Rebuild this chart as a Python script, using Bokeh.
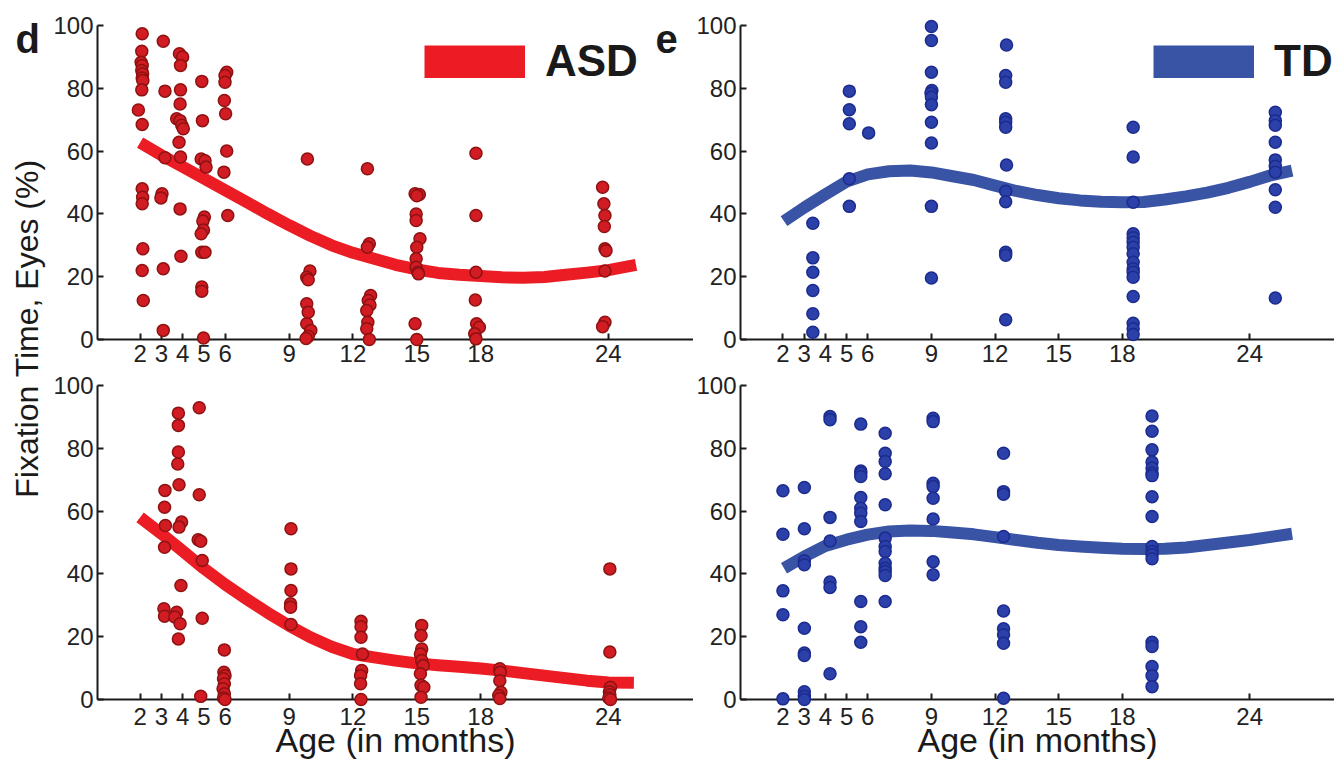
import math
from bokeh.plotting import figure
from bokeh.models import Range1d, FixedTicker, Label, Legend, LegendItem
from bokeh.layouts import row, column
from bokeh.embed import file_html
from bokeh.resources import INLINE

# ---------------- data ----------------
x_ticks = [2, 3, 4, 5, 6, 9, 12, 15, 18, 24]
y_ticks = [0, 20, 40, 60, 80, 100]

# d (top): ASD, first measure
asd_top_age = [2.1, 2.08, 2.05, 2.1, 2.08, 2.12, 2.1, 2.13, 2.08, 1.92, 2.1, 2.1, 2.12, 2.1, 2.13, 2.1, 2.15,
               3.09, 3.17, 3.17, 3.03, 2.98, 3.09, 3.09,
               3.85, 4.0, 3.9, 3.9, 3.88, 3.72, 3.88, 3.96, 4.03, 3.83, 3.9, 3.88, 3.92,
               4.9, 4.93, 4.87, 5.05, 5.1, 5.02, 4.95, 4.98, 4.87, 4.9, 5.05, 4.9, 4.9, 4.98,
               6.07, 5.99, 5.99, 5.96, 6.02, 6.07, 5.94, 6.12,
               9.86, 9.98, 9.83, 9.9, 9.83, 9.9, 9.83, 10.02, 9.9, 9.8,
               12.68, 12.77, 12.68, 12.83, 12.72, 12.8, 12.65, 12.7, 12.65, 12.77,
               14.92, 15.12, 15.0, 14.97, 14.97, 15.15, 15.0, 14.97, 14.97, 15.05, 15.08, 14.92, 15.0,
               17.78, 17.78, 17.78, 17.75, 17.81, 17.94, 17.72, 17.78,
               23.73, 23.79, 23.84, 23.81, 23.84, 23.89, 23.84, 23.84, 23.73]
asd_top_fix = [97.4, 91.8, 88.3, 87.3, 85.7, 84.6, 83.3, 82.5, 79.5, 73.1, 68.5, 48, 45.3, 43.2, 28.9, 22, 12.4,
               95, 79.1, 57.9, 46.4, 45.1, 22.5, 2.9,
               91, 90, 87.3, 79.5, 75, 70.3, 69.7, 68.2, 67.1, 62.8, 58.1, 41.6, 26.5,
               82.2, 69.7, 57.5, 56.9, 54.9, 39, 37.7, 34.9, 33.7, 27.8, 27.8, 16.7, 15.4, 0.5,
               85.1, 84.1, 81.9, 76.1, 71.9, 60, 53.3, 39.5,
               57.5, 21.8, 19.8, 19, 11.4, 8.7, 5, 2.9, 1, 0.3,
               54.4, 30.5, 29.4, 14, 12.4, 11, 9.2, 5.5, 3.4, 0,
               46.4, 46.2, 45.8, 40, 37.9, 32.1, 29.4, 25.7, 23, 21.4, 20.9, 5, 0,
               59.3, 39.5, 21.4, 12.6, 5, 3.9, 1.8, 0.2,
               48.5, 43.2, 39.5, 36, 28.9, 28.3, 21.8, 5.5, 4.1]
asd_top_fit_age = [2, 3, 4, 5, 6, 7, 8, 9, 10, 11, 12, 13, 14, 15, 16, 17, 18, 19, 20, 21, 22, 23, 24, 25.3]
asd_top_fit = [62.7, 58.7, 55, 51.3, 47.5, 43.8, 40, 36.4, 33, 30, 27.6, 25.7, 23.8, 22.3, 21.2, 20.6,
               20.2, 19.8, 19.7, 19.9, 20.6, 21.3, 22.1, 23.8]

# e (top): TD, first measure
td_top_age = [3.41, 3.41, 3.41, 3.41, 3.41, 3.41,
              5.13, 5.13, 5.13, 5.13, 5.13,
              6.04,
              9.0, 9.0, 9.0, 9.02, 8.98, 9.0, 9.0, 9.0, 9.0, 9.0, 9.0,
              12.54, 12.5, 12.5, 12.5, 12.5, 12.5, 12.54, 12.5, 12.5, 12.5, 12.5, 12.5,
              18.51, 18.51, 18.51, 18.51, 18.51, 18.51, 18.51, 18.51, 18.51, 18.51, 18.51, 18.51,
              18.51, 18.51, 18.51, 18.51,
              25.21, 25.21, 25.21, 25.21, 25.21, 25.21, 25.21, 25.21, 25.21, 25.21]
td_top_fix = [37, 26, 21.4, 15.6, 8.2, 2.3,
              79.1, 73.2, 68.7, 51.2, 42.4,
              65.8,
              99.7, 95.2, 85.1, 79.3, 78.4, 77.2, 74.8, 69.2, 62.6, 42.4, 19.6,
              93.8, 84.1, 81.9, 70.3, 69.2, 67.6, 55.6, 47.2, 43.9, 27.8, 26.8, 6.3,
              67.6, 58.1, 43.7, 33.7, 32.4, 31, 29.4, 27.3, 24.6, 22.5, 21.4, 19.8, 13.7, 5.2, 3.4, 1.6,
              72.4, 69.7, 68.2, 62.8, 57.2, 55.2, 53.3, 47.7, 42.1, 13.2]
td_top_fit_age = [2.05, 3, 4, 5, 6, 7, 8, 9, 10, 11, 12, 13, 14, 15, 16, 17, 18, 19, 20, 21, 22, 23, 24, 25, 26]
td_top_fit = [37.7, 42, 46.2, 50.3, 52.6, 53.6, 53.8, 53.2, 52, 50.8, 49, 47.3, 46, 45, 44.3, 43.9, 43.7,
              43.8, 44.6, 45.6, 46.8, 48.3, 50.2, 52.3, 53.8]

# d (bottom): ASD, second measure
asd_bot_age = [3.17, 3.15, 3.19, 3.15, 3.12, 3.15,
               3.80, 3.80, 3.80, 3.77, 3.83, 3.95, 3.83, 3.92, 3.72, 3.63, 3.88, 3.80,
               4.78, 4.78, 4.73, 4.85, 4.92, 4.92, 4.85,
               5.96, 5.94, 5.99, 5.92, 5.96, 5.9, 5.96, 5.92, 5.99,
               9.09, 9.09, 9.09, 9.07, 9.07, 9.09,
               12.38, 12.38, 12.38, 12.45, 12.41, 12.36, 12.36, 12.38,
               15.23, 15.2, 15.23, 15.17, 15.23, 15.3, 15.17, 15.2, 15.33, 15.2,
               18.9, 18.92, 18.9, 18.95, 18.85, 18.9,
               24.07, 24.07, 24.1, 24.05, 24.07, 24.02, 24.1]
asd_bot_fix = [66.6, 61.2, 55.4, 48.5, 28.9, 26.5,
               91.2, 87.3, 78.8, 75, 68.4, 56.5, 54.9, 36.3, 27.8, 26.3, 24.1, 19.3,
               92.9, 65.2, 50.9, 50.4, 44.3, 25.9, 1,
               15.8, 8.7, 7.6, 6.6, 5, 3.4, 1.8, 0.5, 0,
               54.4, 41.6, 34.7, 30.5, 29.4, 23.9,
               24.9, 23.2, 19.8, 14.5, 9.2, 7.6, 5, 0,
               23.6, 20.4, 16.1, 14.5, 12.4, 10.8, 8.2, 4.5, 3.9, 0.7,
               9.8, 8.7, 6, 2.3, 1.3, 0.3,
               41.6, 15.1, 3.9, 2.5, 1.5, 0.5, 0]
asd_bot_fit_age = [2, 3, 4, 5, 6, 7, 8, 9, 10, 11, 12, 13, 14, 15, 16, 17, 18, 19, 20, 21, 22, 23, 24, 25.2]
asd_bot_fit = [58, 52.8, 47.3, 41.7, 36.6, 32, 27.6, 23.5, 19.8, 16.8, 14.5, 13.4, 12.4, 11.5, 10.9, 10.4,
               9.9, 9.2, 8.4, 7.6, 6.8, 6.0, 5.4, 5.3]

# e (bottom): TD, second measure
td_bot_age = [2.0, 2.0, 2.0, 2.0, 2.0,
              3.01, 3.01, 3.01, 3.01, 3.01, 3.01, 3.01, 3.01, 3.01, 3.01,
              4.22, 4.22, 4.22, 4.22, 4.22, 4.22, 4.22,
              5.67, 5.67, 5.67, 5.67, 5.67, 5.67, 5.67, 5.67, 5.67, 5.67, 5.67,
              6.82, 6.82, 6.82, 6.82, 6.82, 6.82, 6.82, 6.82, 6.82, 6.82, 6.82, 6.82, 6.82,
              9.08, 9.08, 9.08, 9.08, 9.08, 9.08, 9.08, 9.08,
              12.4, 12.4, 12.4, 12.4, 12.4, 12.4, 12.4, 12.4, 12.4,
              19.4, 19.4, 19.4, 19.4, 19.4, 19.4, 19.4, 19.4, 19.4, 19.4, 19.4, 19.4, 19.4,
              19.4, 19.4, 19.4, 19.4, 19.4]
td_bot_fix = [66.5, 52.6, 34.6, 27, 0.2,
              67.5, 54.4, 44.2, 42.9, 22.7, 14.8, 14, 2.5, 1, 0,
              90.1, 89.1, 58, 50.5, 37.4, 35.7, 8.2,
              87.7, 72.8, 72.1, 71, 64.3, 60.9, 59.3, 56.7, 31.2, 23.2, 18.2,
              84.8, 78.4, 75.8, 71.9, 62, 51.4, 48.7, 47.1, 43.4, 41.8, 40.8, 39.5, 31.2,
              89.6, 88.5, 68.9, 67.8, 64.1, 57.5, 43.9, 39.7,
              78.4, 66.2, 65.4, 51.9, 28.2, 22.5, 20.6, 17.9, 0.4,
              90.3, 85.4, 79.5, 75.6, 73.7, 72.1, 71.3, 64.6, 58.3, 48.7, 47.1, 46.1, 44.8,
              18.2, 16.9, 10.5, 7.6, 4.1]
td_bot_fit_age = [2.05, 3, 4, 5, 6, 7, 8, 9, 10, 11, 12, 13, 14, 15, 16, 17, 18, 19, 20, 21, 22, 23, 24, 25, 26]
td_bot_fit = [41.8, 45.5, 48.9, 50.9, 52.5, 53.5, 53.8, 53.7, 53.2, 52.6, 51.7, 50.8, 49.9, 49.2, 48.7,
              48.3, 48, 47.9, 48, 48.4, 49.2, 50, 50.8, 51.8, 52.8]

# ---------------- styling ----------------
FONT = "Liberation Sans"
INK = "#1a1a1a"
RED_FILL, RED_EDGE, RED_LINE = "#d01c22", "#8e1212", "#ec1c24"
BLUE_FILL, BLUE_EDGE, BLUE_LINE = "#2b40a8", "#1c2b8e", "#3953a5"

X_END = 28.0


def panel(width, height, border_left, border_top, border_bottom, x_standoff, xlabel=None):
    p = figure(width=width, height=height,
               x_range=Range1d(0, X_END), y_range=Range1d(0, 100),
               output_backend="svg", toolbar_location=None,
               min_border_left=border_left, min_border_right=0,
               min_border_top=border_top, min_border_bottom=border_bottom)
    p.outline_line_color = None
    p.xgrid.visible = False
    p.ygrid.visible = False
    p.background_fill_color = "white"
    p.border_fill_color = "white"
    p.xaxis.ticker = FixedTicker(ticks=x_ticks)
    p.yaxis.ticker = FixedTicker(ticks=y_ticks)
    for ax in list(p.xaxis) + list(p.yaxis):
        ax.axis_line_width = 2
        ax.axis_line_color = INK
        ax.major_tick_line_width = 2
        ax.major_tick_line_color = INK
        ax.major_tick_in = 6
        ax.major_tick_out = 0
        ax.minor_tick_line_color = None
        ax.major_label_text_font = FONT
        ax.major_label_text_font_size = "24px"
        ax.major_label_text_color = "#222222"
    p.xaxis.major_label_standoff = x_standoff
    p.yaxis.major_label_standoff = 4
    if xlabel:
        p.xaxis.axis_label = xlabel
        p.xaxis.axis_label_text_font = FONT
        p.xaxis.axis_label_text_font_size = "34px"
        p.xaxis.axis_label_text_font_style = "normal"
        p.xaxis.axis_label_text_color = INK
        p.xaxis.axis_label_standoff = -7
    return p


def add_series(p, age, fix, fit_age, fit, fill, edge, line):
    p.line(fit_age, fit, line_width=12, line_color=line, line_cap="butt", line_join="round")
    p.scatter(age, fix, size=12, fill_color=fill, line_color=edge, line_width=1.5, level="overlay")


def add_legend(p, text, color, fit_age, fit, vx, vy):
    # legend swatch: same fit data drawn on an off-screen range, so only the legend shows it
    p.extra_x_ranges = {"offscreen": Range1d(1000, 1001)}
    swatch = p.line(fit_age, fit, x_range_name="offscreen", line_width=33,
                    line_color=color, line_cap="butt")
    lg = Legend(items=[LegendItem(label=text, renderers=[swatch])], location=(vx, vy),
                padding=0, spacing=0, margin=0, glyph_width=101, glyph_height=33,
                label_standoff=20, label_text_font=FONT, label_text_font_size="44px",
                label_text_font_style="bold", label_text_color=INK,
                border_line_color=None, background_fill_alpha=0)
    p.add_layout(lg)


# layout (page origin at 0,0): label column 48px, left panels frame 97..693, right frame 738..1334
p1 = panel(645, 371, 49, 25, 32, 5)
p2 = panel(641, 371, 45, 25, 32, 5)
p3 = panel(645, 394, 49, 14, 66, 8, "Age (in months)")
p4 = panel(641, 394, 45, 14, 66, 8, "Age (in months)")

add_series(p1, asd_top_age, asd_top_fix, asd_top_fit_age, asd_top_fit, RED_FILL, RED_EDGE, RED_LINE)
add_series(p2, td_top_age, td_top_fix, td_top_fit_age, td_top_fit, BLUE_FILL, BLUE_EDGE, BLUE_LINE)
add_series(p3, asd_bot_age, asd_bot_fix, asd_bot_fit_age, asd_bot_fit, RED_FILL, RED_EDGE, RED_LINE)
add_series(p4, td_bot_age, td_bot_fix, td_bot_fit_age, td_bot_fit, BLUE_FILL, BLUE_EDGE, BLUE_LINE)

add_legend(p1, "ASD", RED_LINE, asd_top_fit_age, asd_top_fit, 327, 253)
add_legend(p2, "TD", BLUE_LINE, td_top_fit_age, td_top_fit, 413, 253)

# panel letter "e" (baseline at page y 38, frame bottom at 339)
p1.add_layout(Label(x=558, y=301, x_units="screen", y_units="screen", text="e",
                    text_font=FONT, text_font_size="40px", text_font_style="bold",
                    text_color=INK, text_align="left", text_baseline="alphabetic"))

lab = figure(width=48, height=765, x_range=Range1d(0, 1), y_range=Range1d(0, 1),
             x_axis_type=None, y_axis_type=None, output_backend="svg",
             toolbar_location=None, min_border=0)
lab.outline_line_color = None
lab.add_layout(Label(x=26, y=437, x_units="screen", y_units="screen", text="Fixation Time, Eyes (%)",
                     angle=math.pi / 2, text_align="center", text_baseline="middle",
                     text_font=FONT, text_font_size="32px", text_color=INK))
lab.add_layout(Label(x=15, y=727, x_units="screen", y_units="screen", text="d",
                     text_font=FONT, text_font_size="40px", text_font_style="bold",
                     text_color=INK, text_align="left", text_baseline="alphabetic"))

layout = row(lab, column(row(p1, p2), row(p3, p4)))

open("out.html", "w").write(file_html(layout, INLINE))
